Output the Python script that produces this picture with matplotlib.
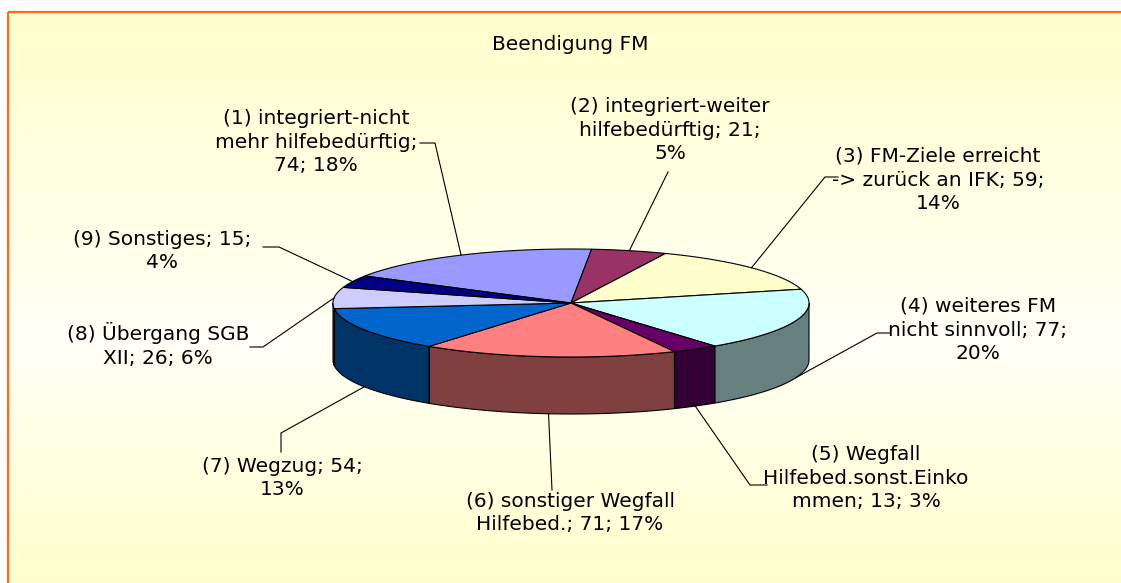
import numpy as np
import matplotlib
matplotlib.use("Agg")
import matplotlib.pyplot as plt
from matplotlib.patches import Polygon, Rectangle
from matplotlib.colors import to_rgb

# data
title = "Beendigung FM"
labels = [
    "(1) integriert-nicht\nmehr hilfebedürftig;\n74; 18%",
    "(2) integriert-weiter\nhilfebedürftig; 21;\n5%",
    "(3) FM-Ziele erreicht\n-> zurück an IFK; 59;\n14%",
    "(4) weiteres FM\nnicht sinnvoll; 77;\n20%",
    "(5) Wegfall\nHilfebed.sonst.Einko\nmmen; 13; 3%",
    "(6) sonstiger Wegfall\nHilfebed.; 71; 17%",
    "(7) Wegzug; 54;\n13%",
    "(8) Übergang SGB\nXII; 26; 6%",
    "(9) Sonstiges; 15;\n4%",
]
values = [74, 21, 59, 77, 13, 71, 54, 26, 15]
colors = ['#9999FF', '#993366', '#FFFFCC', '#CCFFFF', '#660066',
          '#FF8080', '#0066CC', '#CCCCFF', '#000080']

# layout (pixels)
W, H = 1121, 583
cx, cy, rx, ry, depth = 571, 303, 238, 54, 57
start = 150.0
label_pos = [(316, 142), (670, 130), (938, 180), (978, 330), (866, 478),
             (570, 513), (282, 478), (158, 345), (162, 251)]
leader_pts = [[(420, 143), (435, 143)], [(668, 172)], [(838, 177), (825, 177)],
              [(890, 333), (877, 333)], [(767, 485), (750, 485)], [(552, 490)],
              [(281, 452), (281, 433)], [(250, 347), (263, 347)],
              [(263, 247), (279, 247)]]

fig = plt.figure(figsize=(W / 100, H / 100), dpi=100)
ax = fig.add_axes([0, 0, 1, 1])
ax.set_xlim(0, W)
ax.set_ylim(H, 0)
ax.axis('off')

# background gradient
ys = np.arange(H)
shade = np.interp(ys, [12, 340, H], [204, 246, 204])
img = np.ones((H, 1, 3))
img[:, 0, 2] = shade / 255
ax.imshow(img, extent=[0, W, H, 0], aspect='auto', zorder=0)
ax.add_patch(Rectangle((0, 0), W, 12, color='white', zorder=1))
ax.add_patch(Rectangle((0, 0), 8, H, color='white', zorder=1))
ax.plot([8, W + 10], [12, 12], color='#FF6A10', lw=1.6, zorder=2,
        solid_capstyle='butt')
ax.plot([8, 8], [12, H + 10], color='#FF6A10', lw=1.6, zorder=2,
        solid_capstyle='butt')


def pt(t, dz=0):
    r = np.radians(t)
    return cx + rx * np.cos(r), cy - ry * np.sin(r) + dz


total = sum(values)
bounds = []
a = start
for v in values:
    b = a - v / total * 360
    bounds.append((a, b))
    a = b

# side walls (front half only)
for (a0, a1), c in zip(bounds, colors):
    hi, lo = min(a0, 0), max(a1, -180)
    if hi <= lo:
        continue
    ts = np.linspace(hi, lo, 60)
    top = [pt(t) for t in ts]
    bot = [pt(t, depth) for t in ts[::-1]]
    side = tuple(0.5 * np.array(to_rgb(c)))
    ax.add_patch(Polygon(top + bot, closed=True, facecolor=side,
                         edgecolor='black', lw=0.8, zorder=3))

# top face
for (a0, a1), c in zip(bounds, colors):
    ts = np.linspace(a0, a1, 80)
    poly = [(cx, cy)] + [pt(t) for t in ts]
    ax.add_patch(Polygon(poly, closed=True, facecolor=c, edgecolor='black',
                         lw=0.8, zorder=4))

# labels and leader lines
for (a0, a1), lab, (lx, ly), pts in zip(bounds, labels, label_pos, leader_pts):
    mid = (a0 + a1) / 2
    anchor = pt(mid, depth if np.sin(np.radians(mid)) < 0 else 0)
    xs = [p[0] for p in pts] + [anchor[0]]
    yv = [p[1] for p in pts] + [anchor[1]]
    ax.plot(xs, yv, color='black', lw=0.8, zorder=5)
    ax.text(lx, ly, lab, ha='center', va='center', multialignment='center',
            fontsize=14.5, family='DejaVu Sans', linespacing=1.3, zorder=6)

ax.text(570, 45, title, ha='center', va='center', fontsize=14.5,
        family='DejaVu Sans', zorder=6)

fig.savefig("out.png", dpi=100)
